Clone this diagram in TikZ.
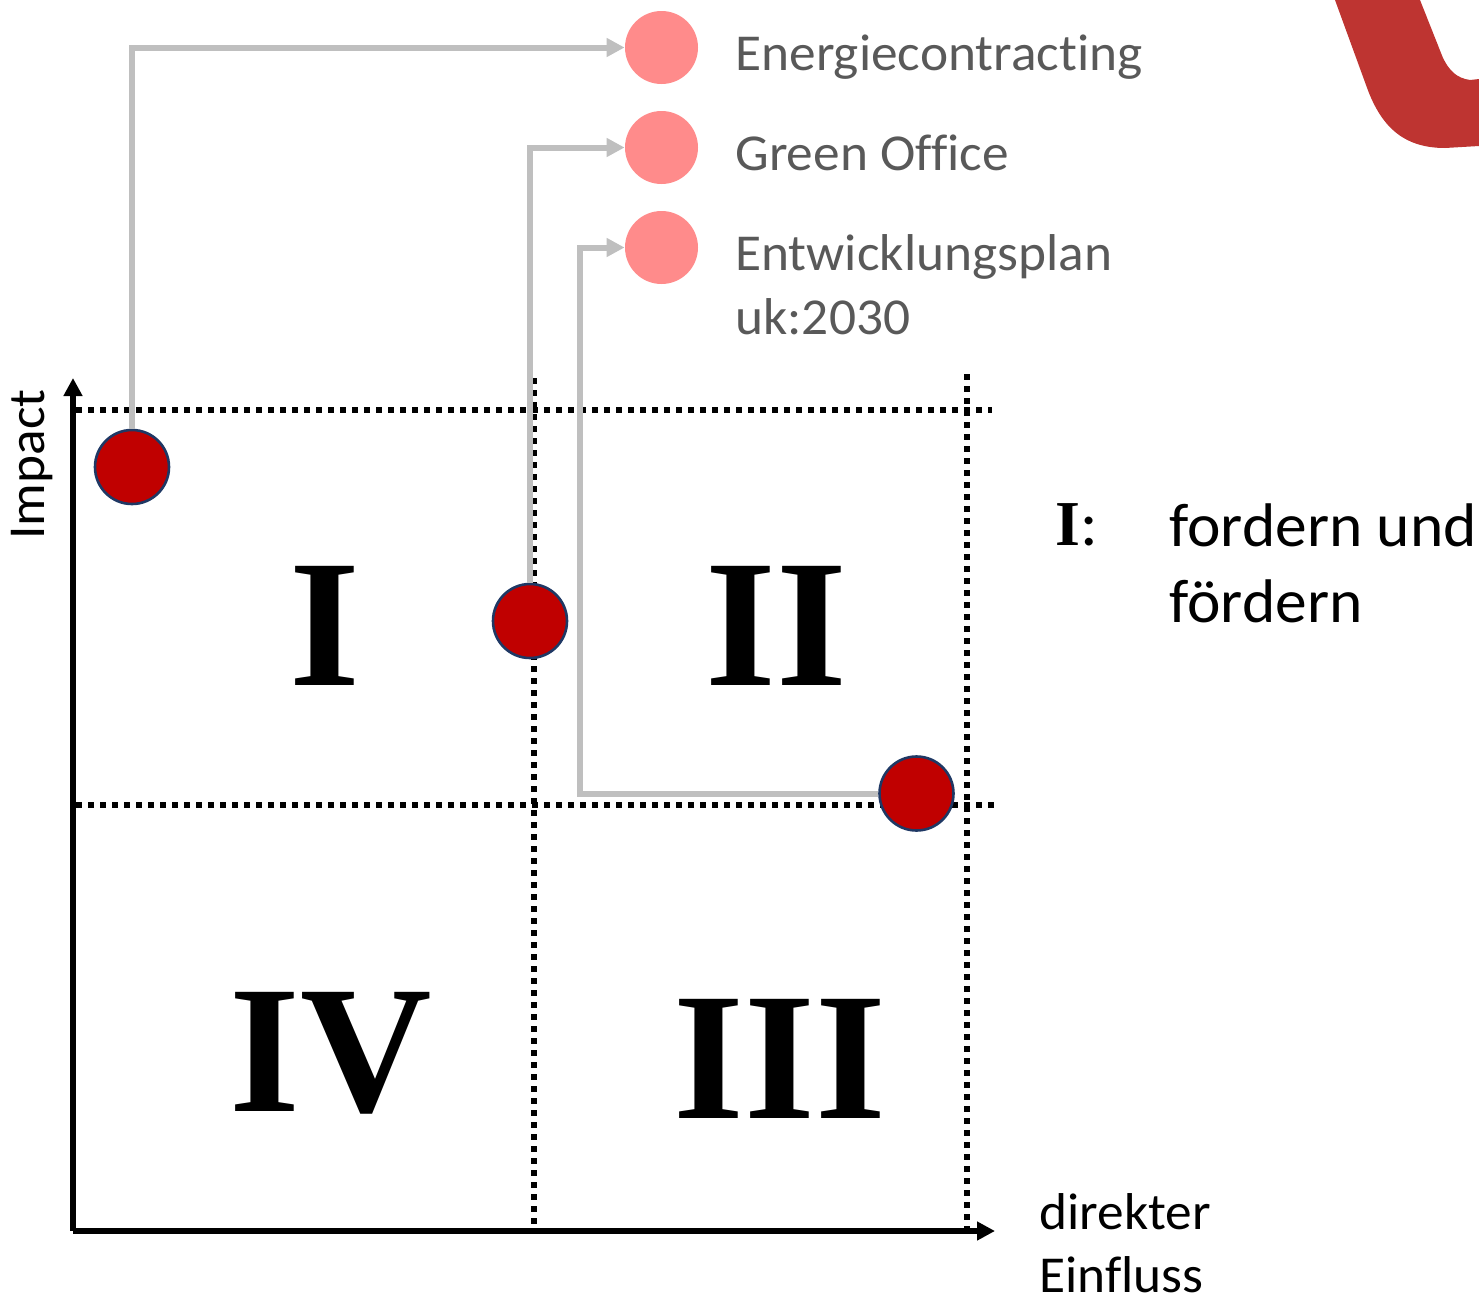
\documentclass[tikz,border=0pt]{standalone}
\usepackage{fontspec}
\setmainfont{Carlito}[FakeStretch=1.03,Ligatures=NoCommon]
\newfontfamily\numfont{Liberation Serif}
\usetikzlibrary{arrows.meta}
\definecolor{greytxt}{HTML}{595959}
\definecolor{connGrey}{HTML}{BFBFBF}
\definecolor{dotRed}{HTML}{C00000}
\definecolor{dotEdge}{HTML}{1F3864}
\definecolor{softRed}{HTML}{FF8B8B}
\definecolor{swoosh}{HTML}{BE3431}
\tikzset{
  axisline/.style={line width=3pt,-{Triangle[length=9pt,width=9pt]}},
  gridline/.style={line width=3pt,dash pattern=on 3pt off 3pt},
  conn/.style={connGrey,line width=3pt,-{Triangle[length=9pt,width=9pt]}},
  reddot/.style={circle,draw=dotEdge,line width=1.3pt,fill=dotRed,minimum size=37pt,inner sep=0pt},
  softdot/.style={circle,fill=softRed,minimum size=36.5pt,inner sep=0pt},
  listlabel/.style={anchor=base west,text=greytxt,font=\fontsize{25.9}{30}\selectfont,inner sep=0pt},
  bodylabel/.style={anchor=base west,text=black,font=\fontsize{30.8}{34}\selectfont,inner sep=0pt},
  axislabel/.style={anchor=base west,text=black,font=\fontsize{25.9}{30}\selectfont,inner sep=0pt},
  roman/.style={text=black,font=\fontsize{91}{91}\selectfont\numfont\bfseries,inner sep=0pt,anchor=base}
}
\begin{document}
\begin{tikzpicture}[x=0.5pt,y=-0.5pt]
\useasboundingbox (0,0) rectangle (1479,1296);
% swoosh
\fill[swoosh] (1335,0) -- (1366,85) .. controls (1380,125) and (1402,148) .. (1445,148) -- (1479,146) -- (1479,79) -- (1470,80) .. controls (1456,78) and (1449,70) .. (1443,58) -- (1420,0) -- cycle;
% grid
\coordinate (hta) at (76,409.5); \coordinate (htb) at (992,409.5);
\coordinate (hma) at (76,804.5); \coordinate (hmb) at (996,804.5);
\coordinate (vma) at (534,378); \coordinate (vmb) at (534,1230);
\coordinate (vra) at (967,374); \coordinate (vrb) at (967,1230);
\draw[gridline] (hta) -- (htb);
\draw[gridline] (hma) -- (hmb);
\draw[gridline] (vma) -- (vmb);
\draw[gridline] (vra) -- (vrb);
% axes
\coordinate (origin) at (73,1231);
\coordinate (ytop) at (73,378);
\coordinate (xend) at (995,1231);
\draw[axisline] (origin) -- (ytop);
\draw[axisline] (origin) -- (xend);
% dots
\node[softdot] (s1) at (661.5,47.5) {};
\node[softdot] (s2) at (661.5,147.5) {};
\node[softdot] (s3) at (661.5,247.5) {};
\node[reddot] (r1) at (132,467) {};
\node[reddot] (r2) at (530,621) {};
\node[reddot] (r3) at (916.5,793.5) {};
% connectors
\draw[conn] (r1.north) -- (r1.north |- s1.west) -- (s1.west);
\draw[conn] (r2.north) -- (r2.north |- s2.west) -- (s2.west);
\draw[conn] (r3.west) -- (580,793.5) -- (580,247.5) -- (s3.west);
% labels
\node[listlabel] (l1) at (735,70) {Energiecontracting};
\node[listlabel] (l2) at (735,170) {Green Office};
\node[listlabel] (l3) at (735,270) {Entwicklungsplan};
\node[listlabel] (l3b) at (735,334) {uk:2030};
\node[axislabel,rotate=90] (yl) at (44,540) {Impact};
\node[axislabel] (xl1) at (1039,1229) {direkter};
\node[axislabel] (xl2) at (1039,1292) {Einfluss};
\node[anchor=base west,inner sep=0pt,font=\fontsize{32}{36}\selectfont] (bi) at (1055,545) {{\numfont\bfseries I}:};
\node[bodylabel] (b1) at (1169,546) {fordern und};
\node[bodylabel] (b2) at (1169,622) {fördern};
% roman
\node[roman] (q1) at (324.5,685) {I};
\node[roman] (q2) at (776.5,685) {II};
\node[roman] (q3) at (780,1118) {III};
\node[roman] (q4) at (331,1111) {IV};
\end{tikzpicture}
\end{document}
